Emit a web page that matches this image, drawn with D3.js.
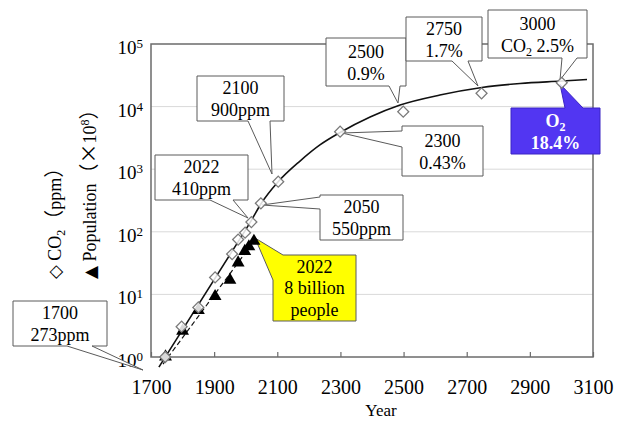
<!DOCTYPE html>
<html>
<head>
<meta charset="utf-8">
<script src="https://cdn.jsdelivr.net/npm/d3@7"></script>
<style>
  html, body { margin: 0; padding: 0; background: #fff; }
  svg { display: block; }
  svg text { font-family: "Liberation Serif", "Times New Roman", "Noto Sans CJK JP", serif !important; }
  svg text tspan.cjk { font-family: "Noto Sans CJK JP", sans-serif !important; }
  svg text tspan.sym { font-family: "DejaVu Sans", sans-serif !important; }
</style>
</head>
<body>
<svg id="chart" width="617" height="421"></svg>
<script>
// ---------------- data ----------------
const xTicks = [1700, 1900, 2100, 2300, 2500, 2700, 2900, 3100];
const yTicks = [1, 10, 100, 1000, 10000, 100000];
const yTickExponents = ["0", "1", "2", "3", "4", "5"];

// CO2 (open diamonds)
const co2Years  = [1745, 1797, 1850, 1903, 1957, 1976, 1998, 2018, 2048, 2103, 2299, 2499, 2747, 3001];
const co2Values = [1, 3.05, 6.2, 18.7, 44, 75, 97, 143, 285, 632, 3980, 8300, 16300, 24000];

// Population (filled triangles)
const popYears  = [1746, 1800, 1850, 1903, 1950, 1976, 1997, 2010, 2026];
const popValues = [1.01, 2.6, 5.6, 9.3, 17, 32, 49, 58, 71];

// CO2 fitted curve (solid)
const fitYears  = [1725, 1957, 2017, 2048, 2102, 2172, 2235, 2299, 2394, 2489, 2615, 2748, 2869, 3002, 3081];
const fitValues = [0.69, 49, 149, 278, 624, 1350, 2440, 3860, 6820, 10600, 15300, 20200, 23400, 25600, 27100];

// Population trend (dashed)
const trendYears  = [1738, 2029];
const trendValues = [0.77, 74];

// callout texts
const calloutTexts = {
  c1700: [[["1700"]], [["273ppm"]]],
  c2022: [[["2022"]], [["410ppm"]]],
  c2100: [[["2100"]], [["900ppm"]]],
  c2050: [[["2050"]], [["550ppm"]]],
  c2300: [[["2300"]], [["0.43%"]]],
  c2500: [[["2500"]], [["0.9%"]]],
  c2750: [[["2750"]], [["1.7%"]]],
  c3000: [[["3000"]], [["CO"], ["2", "sub"], [" 2.5%"]]],
  cO2:   [[["O"], ["2", "sub"]], [["18.4%"]]],
  cPop:  [[["2022"]], [["8 billion"]], [["people"]]]
};

// ---------------- layout ----------------
const plot = { left: 151, right: 593, top: 44, bottom: 357 };

const svg = d3.select("#chart");

const x = d3.scaleLinear().domain([1700, 3100]).range([plot.left, plot.right]);
const y = d3.scaleLog().domain([1, 100000]).range([plot.bottom, plot.top]);

// grid
svg.append("g").selectAll("line")
  .data(yTicks.slice(1, -1))
  .join("line")
  .attr("x1", plot.left).attr("x2", plot.right)
  .attr("y1", d => y(d)).attr("y2", d => y(d))
  .attr("stroke", "#d9d9d9").attr("stroke-width", 1);

// x axis (ticks inside)
const xAxis = svg.append("g")
  .attr("transform", `translate(0,${plot.bottom})`)
  .call(d3.axisBottom(x).tickValues(xTicks).tickSizeInner(-5).tickSizeOuter(0).tickPadding(23).tickFormat(d3.format("d")));
xAxis.select(".domain").remove();
xAxis.selectAll(".tick line").attr("stroke", "#6b6b6b").attr("stroke-width", 1.2);
xAxis.selectAll(".tick text").attr("font-size", 20).attr("fill", "#000");

// y axis labels 10^n
const yAxis = svg.append("g")
  .attr("transform", `translate(${plot.left},0)`)
  .call(d3.axisLeft(y).tickValues(yTicks).tickSize(0).tickPadding(8).tickFormat(() => "10"));
yAxis.select(".domain").remove();
yAxis.selectAll(".tick text")
  .attr("font-size", 19).attr("fill", "#000")
  .attr("dy", "0.5em")
  .each(function(d, i) {
    d3.select(this).append("tspan")
      .attr("font-size", 13).attr("dy", -6)
      .text(yTickExponents[i]);
  });

// frame
svg.append("rect")
  .attr("x", plot.left).attr("y", plot.top)
  .attr("width", plot.right - plot.left).attr("height", plot.bottom - plot.top)
  .attr("fill", "none").attr("stroke", "#6b6b6b").attr("stroke-width", 1.5);

// axis titles
svg.append("text")
  .attr("x", (plot.left + plot.right) / 2 + 9).attr("y", 416)
  .attr("text-anchor", "middle").attr("font-size", 17).attr("fill", "#000").text("Year");

const t1 = svg.append("text")
  .attr("transform", "translate(61,279) rotate(-90)")
  .attr("font-size", 18).attr("fill", "#000");
t1.append("tspan").attr("class", "sym").attr("font-size", 18).text("◇");
t1.append("tspan").text(" CO");
t1.append("tspan").attr("font-size", 12).attr("dy", 4).text("2");
t1.append("tspan").attr("dy", -4).attr("class", "cjk").attr("font-size", 20).text("（");
t1.append("tspan").text("ppm");
t1.append("tspan").attr("class", "cjk").attr("font-size", 20).text("）");

const t2 = svg.append("text")
  .attr("transform", "translate(96,279) rotate(-90)")
  .attr("font-size", 18).attr("fill", "#000");
t2.append("tspan").attr("class", "sym").attr("font-size", 17).text("▲");
t2.append("tspan").text(" Population");
t2.append("tspan").attr("class", "cjk").attr("font-size", 20).text("（");
t2.append("tspan").attr("class", "cjk").attr("font-size", 20).text("×");
t2.append("tspan").text("10");
t2.append("tspan").attr("font-size", 12).attr("dy", -7).text("8");
t2.append("tspan").attr("dy", 7).attr("class", "cjk").attr("font-size", 20).text("）");

// lines
const fitData = fitYears.map((yr, i) => ({ year: yr, value: fitValues[i] }));
const trendData = trendYears.map((yr, i) => ({ year: yr, value: trendValues[i] }));
const lineGen = d3.line().x(d => x(d.year)).y(d => y(d.value)).curve(d3.curveMonotoneX);

svg.append("path").datum(trendData)
  .attr("d", d3.line().x(d => x(d.year)).y(d => y(d.value)))
  .attr("fill", "none").attr("stroke", "#111").attr("stroke-width", 1.2)
  .attr("stroke-dasharray", "5,3");

svg.append("path").datum(fitData)
  .attr("d", lineGen)
  .attr("fill", "none").attr("stroke", "#111").attr("stroke-width", 1.6);

// callouts
const callouts = [
  { key: "c1700", x: 13,  y: 301, w: 94, h: 45, side: "bottom", a: 67,  b: 92,  tx: 143, ty: 370 },
  { key: "c2022", x: 155, y: 155, w: 93, h: 45, side: "bottom", a: 210, b: 233, tx: 248, ty: 218 },
  { key: "c2100", x: 197, y: 76,  w: 87, h: 45, side: "bottom", a: 248, b: 270, tx: 272, ty: 174 },
  { key: "c2050", x: 320, y: 195, w: 83, h: 45, side: "left",   a: 197, b: 209, tx: 262, ty: 205 },
  { key: "c2300", x: 402, y: 126, w: 81, h: 50, side: "left",   a: 131, b: 147, tx: 342, ty: 133 },
  { key: "c2500", x: 326, y: 38,  w: 80, h: 48, side: "bottom", a: 389, b: 400, tx: 398, ty: 103 },
  { key: "c2750", x: 406, y: 17,  w: 76, h: 44, side: "bottom", a: 452, b: 468, tx: 478, ty: 86 },
  { key: "c3000", x: 488, y: 10,  w: 99, h: 48, side: "bottom", a: 562, b: 577, tx: 560, ty: 80 },
  { key: "cO2",   x: 511, y: 108, w: 89, h: 46, side: "top",    a: 565, b: 583, tx: 560, ty: 84,
    fill: "#5236f2", stroke: "#3b24c4", color: "#fff", bold: true },
  { key: "cPop",  x: 273, y: 255, w: 83, h: 66, side: "corner", a: 283, b: 280, tx: 255, ty: 238,
    fill: "#ffff00", gap: 21.5 }
];

function calloutPath(c) {
  const L = c.x, R = c.x + c.w, T = c.y, B = c.y + c.h;
  let p = [[L, T]];
  if (c.side === "top") p.push([c.a, T], [c.tx, c.ty], [c.b, T]);
  p.push([R, T], [R, B]);
  if (c.side === "bottom") p.push([c.b, B], [c.tx, c.ty], [c.a, B]);
  p.push([L, B]);
  if (c.side === "left") p.push([L, c.b], [c.tx, c.ty], [L, c.a]);
  if (c.side === "corner") { p.push([L, c.b], [c.tx, c.ty], [c.a, T]); p.shift(); }
  return "M" + p.map(q => q.join(",")).join("L") + "Z";
}

const cg = svg.append("g");
callouts.forEach(c => {
  cg.append("path").attr("d", calloutPath(c))
    .attr("fill", c.fill || "#fff")
    .attr("stroke", c.stroke || "#5a5a5a").attr("stroke-width", 1);
  const lines = calloutTexts[c.key];
  const gap = c.gap || 22;
  const cy = c.y + c.h / 2;
  const first = cy - 4.5 - (lines.length - 2) * gap / 2;
  lines.forEach((segs, li) => {
    const t = cg.append("text")
      .attr("x", c.x + c.w / 2).attr("y", first + li * gap)
      .attr("text-anchor", "middle").attr("font-size", 18)
      .attr("font-weight", c.bold ? "bold" : "normal")
      .attr("fill", c.color || "#000");
    let shifted = false;
    segs.forEach(s => {
      const ts = t.append("tspan").text(s[0]);
      if (s[1] === "sub") { ts.attr("font-size", 12).attr("dy", 4); shifted = true; }
      else if (shifted) { ts.attr("dy", -4); shifted = false; }
    });
  });
});

// markers
const co2Data = co2Years.map((yr, i) => ({ year: yr, value: co2Values[i] }));
const popData = popYears.map((yr, i) => ({ year: yr, value: popValues[i] }));

svg.append("g").selectAll("path")
  .data(popData).join("path")
  .attr("transform", d => `translate(${x(d.year)},${y(d.value)})`)
  .attr("d", d3.symbol().type(d3.symbolTriangle).size(72))
  .attr("fill", "#000");

svg.append("g").selectAll("path")
  .data(co2Data).join("path")
  .attr("transform", d => `translate(${x(d.year)},${y(d.value)}) rotate(45)`)
  .attr("d", d3.symbol().type(d3.symbolSquare).size(60))
  .attr("fill", "#fff").attr("fill-opacity", 0.85)
  .attr("stroke", "#7a7a7a").attr("stroke-width", 1.3);
</script>
</body>
</html>
